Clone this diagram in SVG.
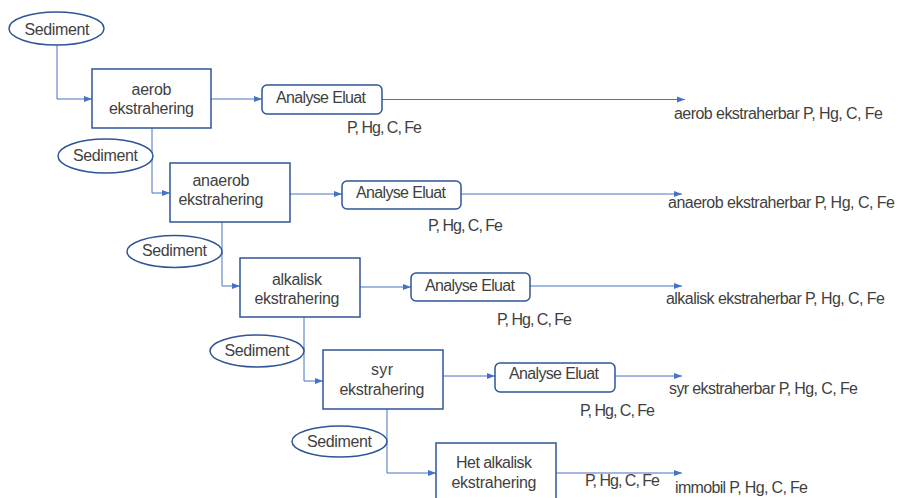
<svg xmlns="http://www.w3.org/2000/svg" width="898" height="498" viewBox="0 0 898 498">
<defs>
<style>
text{font-family:"Liberation Sans",Arial,sans-serif;font-size:16px;fill:#3f3f3f}
.m{text-anchor:middle}
.e{fill:#fff;stroke:#2f5597;stroke-width:1.5}
.b{fill:#fff;stroke:#2f5597;stroke-width:1.5}
.c{fill:none;stroke:#4472c4;stroke-width:1;marker-end:url(#a)}
</style>
<marker id="a" viewBox="0 0 8 8" refX="8" refY="4" markerWidth="8" markerHeight="8" markerUnits="userSpaceOnUse" orient="auto">
<path d="M0,1 L8,4 L0,7 Z" fill="#4472c4"/>
</marker>
</defs>
<g id="connectors">
<path class="c" d="M57,45 V99 H92"/>
<path class="c" d="M211,99 H262"/>
<path class="c" d="M382,99.5 H685"/>
<path class="c" d="M152,128 V193 H170"/>
<path class="c" d="M290,194 H342"/>
<path class="c" d="M461,194 H682"/>
<path class="c" d="M222,222 V286 H240"/>
<path class="c" d="M360,287 H411"/>
<path class="c" d="M530,286 H682"/>
<path class="c" d="M304,317 V381 H323"/>
<path class="c" d="M443,376 H495"/>
<path class="c" d="M615,376 H682"/>
<path class="c" d="M387,409 V473 H436"/>
<path class="c" d="M556,473 H682"/>
</g>
<g id="sediment1"><ellipse class="e" cx="56.5" cy="28.5" rx="47.5" ry="16.5"/><text class="m" x="57" y="35" textLength="65">Sediment</text></g>
<g id="aerob"><rect class="b" x="92" y="69" width="119" height="59"/><text class="m" x="151.5" y="95" textLength="40">aerob</text><text class="m" x="151.5" y="114" textLength="85">ekstrahering</text></g>
<g id="analyse1"><rect class="b" x="262" y="85" width="120" height="29" rx="5"/><text class="m" x="321" y="103" textLength="90">Analyse Eluat</text></g>
<g id="out1"><text x="347" y="133" textLength="75">P, Hg, C, Fe</text><text x="674" y="119" textLength="209">aerob ekstraherbar P, Hg, C, Fe</text></g>

<g id="sediment2"><ellipse class="e" cx="105.5" cy="156" rx="47.5" ry="17"/><text class="m" x="105.5" y="161" textLength="65">Sediment</text></g>
<g id="anaerob"><rect class="b" x="170" y="163" width="120" height="59"/><text class="m" x="221" y="186" textLength="57">anaerob</text><text class="m" x="221" y="205" textLength="85">ekstrahering</text></g>
<g id="analyse2"><rect class="b" x="342" y="181" width="119" height="28" rx="5"/><text class="m" x="401" y="198" textLength="90">Analyse Eluat</text></g>
<g id="out2"><text x="428" y="231" textLength="75">P, Hg, C, Fe</text><text x="668" y="208" textLength="227">anaerob ekstraherbar P, Hg, C, Fe</text></g>

<g id="sediment3"><ellipse class="e" cx="174.5" cy="251.5" rx="47.5" ry="16"/><text class="m" x="174.5" y="256" textLength="65">Sediment</text></g>
<g id="alkalisk"><rect class="b" x="240" y="258" width="120" height="59"/><text class="m" x="297" y="285" textLength="50">alkalisk</text><text class="m" x="297" y="304" textLength="85">ekstrahering</text></g>
<g id="analyse3"><rect class="b" x="411" y="273" width="119" height="28" rx="5"/><text class="m" x="470" y="291" textLength="90">Analyse Eluat</text></g>
<g id="out3"><text x="497" y="325" textLength="75">P, Hg, C, Fe</text><text x="666" y="304" textLength="219">alkalisk ekstraherbar P, Hg, C, Fe</text></g>

<g id="sediment4"><ellipse class="e" cx="257" cy="351" rx="47" ry="16"/><text class="m" x="257" y="356" textLength="65">Sediment</text></g>
<g id="syr"><rect class="b" x="323" y="350" width="120" height="59"/><text class="m" x="382" y="375" textLength="22">syr</text><text class="m" x="382" y="395" textLength="85">ekstrahering</text></g>
<g id="analyse4"><rect class="b" x="495" y="363" width="120" height="29" rx="5"/><text class="m" x="554" y="379" textLength="90">Analyse Eluat</text></g>
<g id="out4"><text x="580" y="416" textLength="75">P, Hg, C, Fe</text><text x="669" y="394" textLength="189">syr ekstraherbar P, Hg, C, Fe</text></g>

<g id="sediment5"><ellipse class="e" cx="339.5" cy="441.5" rx="47.5" ry="15.5"/><text class="m" x="339.5" y="447" textLength="65">Sediment</text></g>
<g id="hetalkalisk"><rect class="b" x="436" y="443" width="120" height="60"/><text class="m" x="494" y="468" textLength="76">Het alkalisk</text><text class="m" x="494" y="488" textLength="85">ekstrahering</text></g>
<g id="out5"><text x="585" y="486" textLength="75">P, Hg, C, Fe</text><text x="675" y="493" textLength="133">immobil P, Hg, C, Fe</text></g>
</svg>
